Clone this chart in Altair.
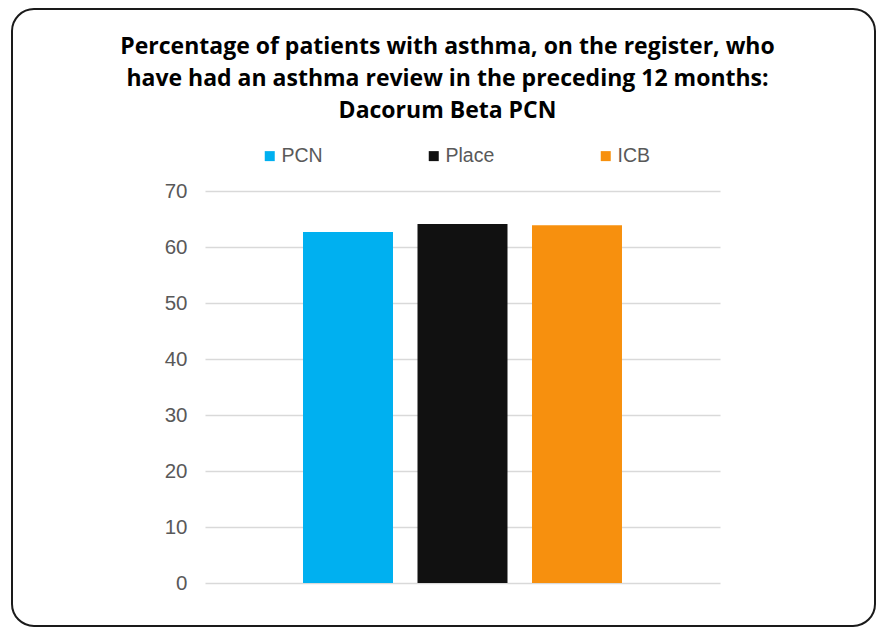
import altair as alt
import pandas as pd

series = ["PCN", "Place", "ICB"]
values = [62.7, 64.1, 63.9]
colors = ["#00B0F0", "#111111", "#F7900E"]
y_ticks = [0, 10, 20, 30, 40, 50, 60, 70]
title_lines = [
    "Percentage of patients with asthma, on the register, who",
    "have had an asthma review in the preceding 12 months:",
    "Dacorum Beta PCN",
]

df = pd.DataFrame({"series": series, "value": values})

W, H = 515, 392

bars = alt.Chart(df).mark_bar().encode(
    x=alt.X("series:N", sort=series, axis=None,
            scale=alt.Scale(paddingInner=0.214, paddingOuter=0.856)),
    y=alt.Y("value:Q", scale=alt.Scale(domain=[0, 70]),
            axis=alt.Axis(values=y_ticks, title=None, domain=False, ticks=False,
                          labelPadding=18, labelFontSize=20.5, labelColor="#595959",
                          labelFont="Liberation Sans", gridColor="#d9d9d9",
                          gridWidth=1.5)),
    color=alt.Color("series:N", sort=series,
                    scale=alt.Scale(domain=series, range=colors),
                    legend=alt.Legend(title=None, orient="none", legendX=55, legendY=-45,
                                      direction="horizontal", columns=3, gridAlign="each",
                                      columnPadding=101, symbolType="square",
                                      symbolSize=100, symbolStrokeWidth=0,
                                      labelFontSize=19.5, labelFont="Liberation Sans",
                                      labelColor="#595959", labelOffset=2)),
)

border = alt.Chart(pd.DataFrame({"k": [0]})).mark_rect(
    filled=False, stroke="#1a1a1a", strokeWidth=2, cornerRadius=22
).encode(x=alt.value(-193), x2=alt.value(670), y=alt.value(-182), y2=alt.value(435))

chart = alt.layer(border, bars).properties(
    width=W, height=H,
    padding={"left": 197, "top": 183, "right": 156, "bottom": 44},
    autosize=alt.AutoSizeParams(type="none"),
    title=alt.TitleParams(text=title_lines, anchor="middle", frame="group", dx=-15,
                          offset=-115, font="Open Sans", fontSize=23, fontWeight="bold",
                          color="#000000", lineHeight=32),
).configure_view(stroke=None)

chart.save("out.html", embed_options={"renderer": "svg", "actions": False})
